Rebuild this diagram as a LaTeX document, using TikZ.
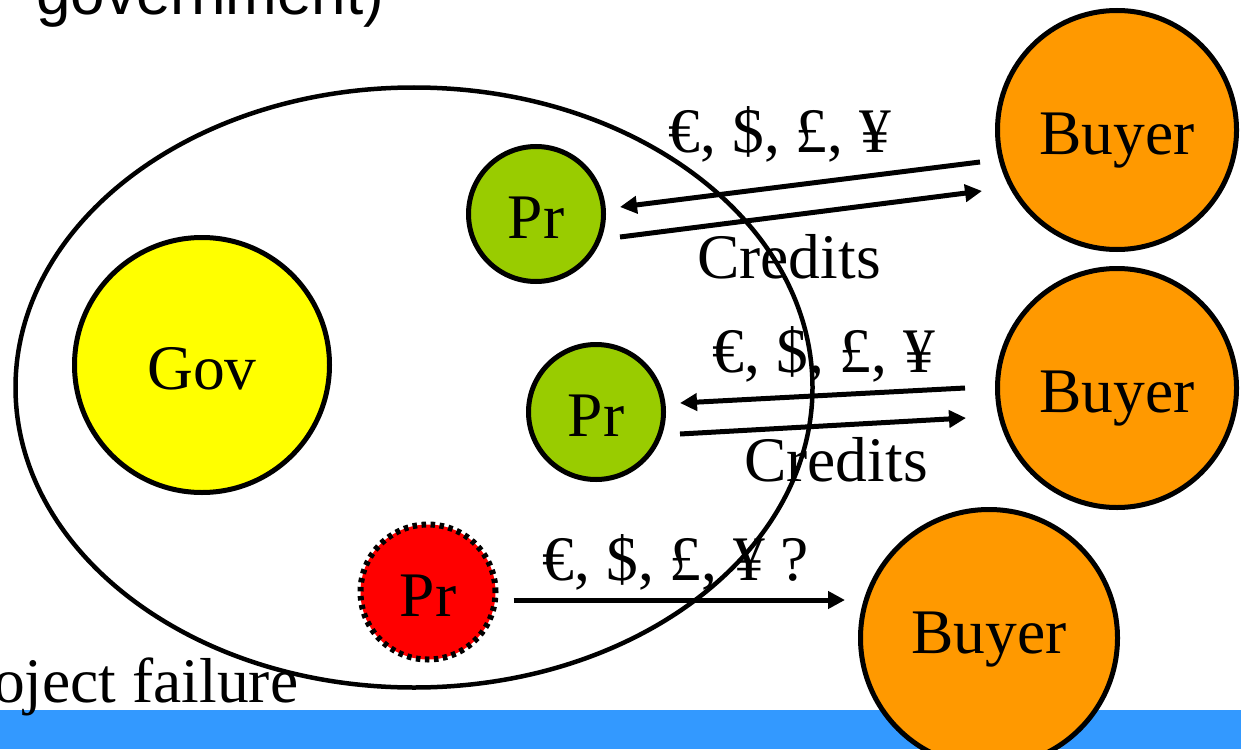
\documentclass[tikz,border=0pt]{standalone}
\usepackage{fontspec}
\setmainfont{Liberation Serif}
\newfontfamily\headfont{Liberation Sans}
\usetikzlibrary{arrows.meta,shapes.geometric}
\definecolor{govyellow}{HTML}{FFFF00}
\definecolor{prgreen}{HTML}{99CC00}
\definecolor{prred}{HTML}{FF0000}
\definecolor{buyorange}{HTML}{FF9900}
\definecolor{barblue}{HTML}{3399FF}

\begin{document}
\begin{tikzpicture}[
  x=1pt, y=-1pt,
  font=\fontsize{63.5}{70}\selectfont,
  actor/.style={circle, draw, line width=5pt, inner sep=0pt,
                text height=48pt, text depth=0pt},
  gov/.style={actor, fill=govyellow, minimum size=255pt},
  prod/.style={actor, fill=prgreen, minimum size=135pt},
  failed/.style={actor, fill=prred, minimum size=135pt, line width=6pt,
                 dash pattern=on 4.5pt off 4.5pt},
  buyer/.style={actor, fill=buyorange, minimum size=239pt},
  lbl/.style={anchor=base, inner sep=0pt},
  ar/.style={line width=5pt, -{Triangle[length=17pt, width=17pt]}},
]
\useasboundingbox (0,0) rectangle (1241,749);
\clip (0,0) rectangle (1241,749);

\fill[barblue] (0,710) rectangle (1241,749);

\node[lbl, anchor=base west, font=\headfont\fontsize{62}{70}\selectfont] (hdr)
     at (36,15) {government)};
\node[lbl, anchor=base west] (fail) at (-7,702) {oject failure};

\node[ellipse, draw, line width=4.5pt, minimum width=797pt, minimum height=600pt]
     (region) at (414,387.5) {};

\node[gov] (gov) at (202,365) {Gov};
\node[prod] (pr1) at (536,214) {Pr};
\node[prod] (pr2) at (596,412) {Pr};
\node[failed] (pr3) at (428,592) {Pr};
\node[buyer] (buy1) at (1117,130) {Buyer};
\node[buyer] (buy2) at (1117,388) {Buyer};
\node[buyer, minimum size=257pt, text height=30pt] (buy3) at (989,638) {Buyer};

\node[lbl] (money1) at (780,152) {€, \$, £, ¥};
\node[lbl] (cred1) at (789,278) {Credits};
\node[lbl] (money2) at (824,372) {€, \$, £, ¥};
\node[lbl] (cred2) at (836,481) {Credits};
\node[lbl] (money3) at (676,580) {€, \$, £, ¥ ?};

\draw[ar] ([shift={(-15,32)}]buy1.west) -- ([shift={(14,-7)}]pr1.east);
\draw[ar] ([shift={(14,23)}]pr1.east) -- ([shift={(-13,61)}]buy1.west);
\draw[ar] ([shift={(-30,0)}]buy2.west) -- ([shift={(14,-9)}]pr2.east);
\draw[ar] ([shift={(14,22)}]pr2.east) -- ([shift={(-29,30)}]buy2.west);
\draw[ar] ([shift={(15,8)}]pr3.east) -- ([shift={(-13,-38)}]buy3.west);
\end{tikzpicture}
\end{document}
